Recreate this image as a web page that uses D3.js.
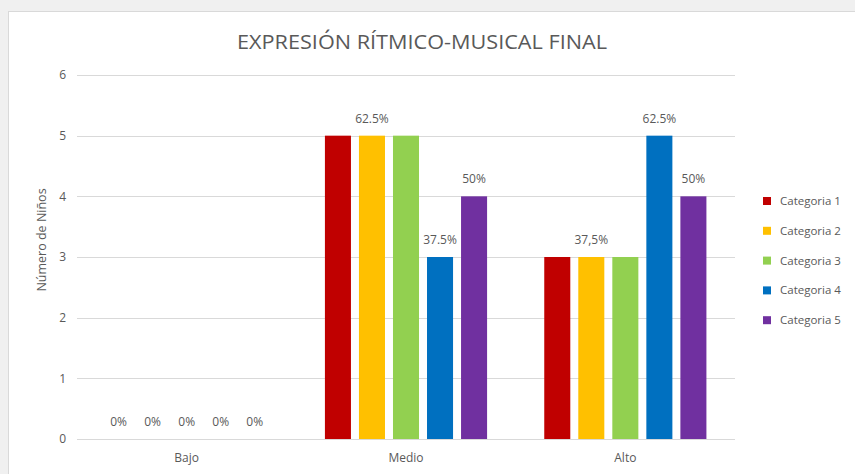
<!DOCTYPE html>
<html lang="es">
  <head>
    <meta charset="UTF-8" />
    <title>Expresión rítmico-musical final</title>
    <script src="https://d3js.org/d3.v7.min.js"></script>
    <style>
      body { margin: 0; background: #fff; }
      text { font-family: "Open Sans", sans-serif; fill: #595959; }
    </style>
  </head>
  <body>
    <svg id="chart" width="855" height="474"></svg>
    <script>
      const categories = ["Bajo", "Medio", "Alto"];
      const seriesNames = ["Categoria 1", "Categoria 2", "Categoria 3", "Categoria 4", "Categoria 5"];
      const colors = ["#c00000", "#ffc000", "#92d050", "#0070c0", "#7030a0"];
      const cat1 = [0, 5, 3];
      const cat2 = [0, 5, 3];
      const cat3 = [0, 5, 3];
      const cat4 = [0, 3, 5];
      const cat5 = [0, 4, 4];
      const lab1 = ["0%", "", ""];
      const lab2 = ["0%", "62.5%", "37,5%"];
      const lab3 = ["0%", "", ""];
      const lab4 = ["0%", "37.5%", "62.5%"];
      const lab5 = ["0%", "50%", "50%"];
      const yTicks = [0, 1, 2, 3, 4, 5, 6];

      const values = [cat1, cat2, cat3, cat4, cat5];
      const labels = [lab1, lab2, lab3, lab4, lab5];

      const svg = d3.select("#chart");

      // gray surround + chart frame
      svg.append("rect").attr("width", 855).attr("height", 474).attr("fill", "#f0f0f0");
      svg.append("rect").attr("x", 8.5).attr("y", 11.5).attr("width", 860).attr("height", 480)
        .attr("fill", "#fff").attr("stroke", "#d9d9d9");

      const x0 = d3.scaleBand().domain(categories).range([77, 735]);
      const x1 = d3.scaleBand().domain(d3.range(5)).range([0, x0.bandwidth()])
        .paddingInner(0.235).paddingOuter(0.84);
      const y = d3.scaleLinear().domain([0, 6]).range([439, 75]);

      // gridlines
      svg.append("g").selectAll("line").data(yTicks).join("line")
        .attr("x1", 77).attr("x2", 735)
        .attr("y1", d => Math.round(y(d)) + 0.5).attr("y2", d => Math.round(y(d)) + 0.5)
        .attr("stroke", "#d9d9d9").attr("stroke-width", 1);

      // y axis labels
      const yAxis = svg.append("g").attr("transform", "translate(70,0)")
        .call(d3.axisLeft(y).tickValues(yTicks).tickFormat(d3.format("d")).tickSize(0).tickPadding(4));
      yAxis.select(".domain").remove();
      yAxis.selectAll("text").attr("font-size", 12).attr("font-family", null).attr("fill", "#595959");

      // x axis labels
      const xAxis = svg.append("g").attr("transform", "translate(0,439)")
        .call(d3.axisBottom(x0).tickSize(0).tickPadding(14));
      xAxis.select(".domain").remove();
      xAxis.selectAll("text").attr("font-size", 12).attr("font-family", null).attr("fill", "#595959");

      // bars
      const groups = svg.append("g").selectAll("g").data(categories).join("g")
        .attr("transform", d => `translate(${x0(d)},0)`);

      groups.selectAll("rect").data((c, ci) => values.map((s, si) => ({ si, v: s[ci], lab: labels[si][ci] })))
        .join("rect")
        .attr("x", d => x1(d.si))
        .attr("width", x1.bandwidth())
        .attr("y", d => y(d.v))
        .attr("height", d => y(0) - y(d.v))
        .attr("fill", d => colors[d.si]);

      groups.selectAll("text.lbl").data((c, ci) => values.map((s, si) => ({ si, v: s[ci], lab: labels[si][ci] })))
        .join("text").attr("class", "lbl")
        .attr("x", d => x1(d.si) + x1.bandwidth() / 2)
        .attr("y", d => y(d.v) - 13)
        .attr("text-anchor", "middle")
        .attr("font-size", 12)
        .text(d => d.lab);

      // title
      svg.append("text").attr("x", 422).attr("y", 49).attr("text-anchor", "middle")
        .attr("font-size", 20).attr("textLength", 370).attr("lengthAdjust", "spacingAndGlyphs")
        .text("EXPRESIÓN RÍTMICO-MUSICAL FINAL");

      // y title
      svg.append("text").attr("transform", "translate(46,240) rotate(-90)")
        .attr("text-anchor", "middle").attr("font-size", 12.5).text("Número de Niños");

      // legend
      const legend = svg.append("g").selectAll("g").data(seriesNames).join("g")
        .attr("transform", (d, i) => `translate(763,${201 + i * 29.8})`);
      legend.append("rect").attr("x", 0).attr("y", -4).attr("width", 8).attr("height", 8)
        .attr("fill", (d, i) => colors[i]);
      legend.append("text").attr("x", 17).attr("y", 4).attr("font-size", 11.5).text(d => d);
    </script>
  </body>
</html>
